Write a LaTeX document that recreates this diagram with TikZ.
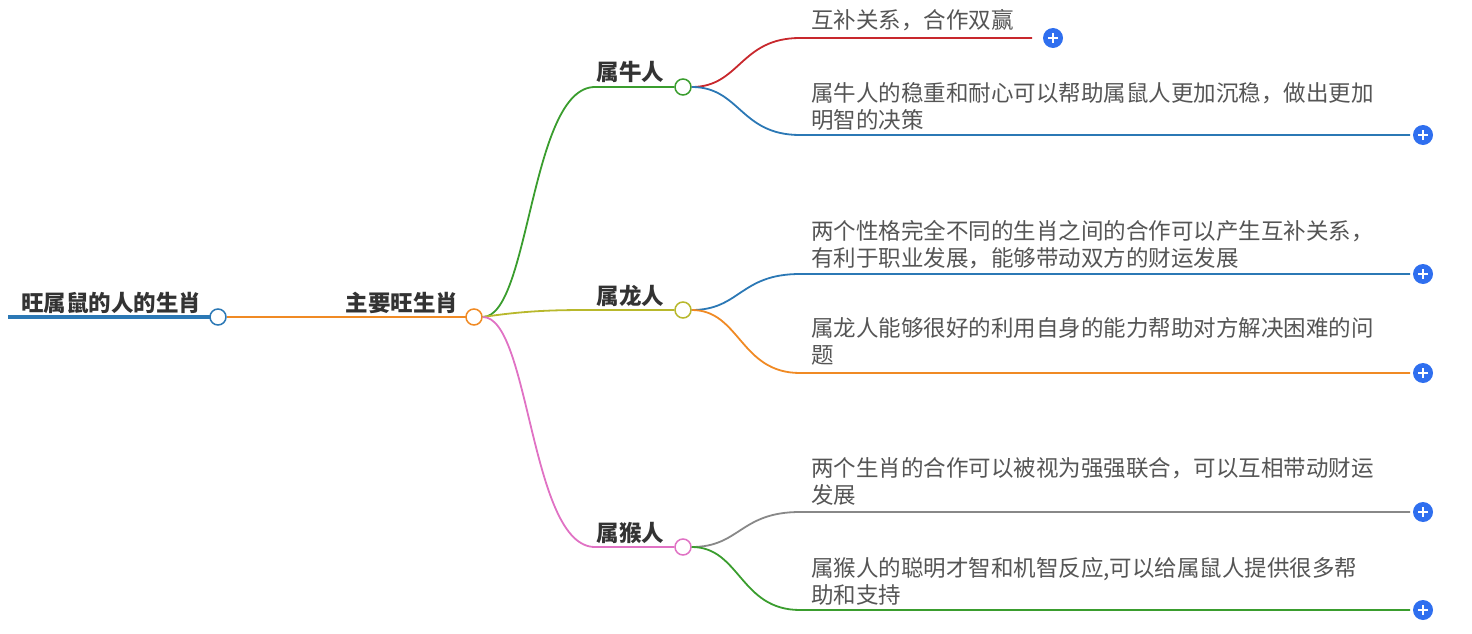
\documentclass[tikz,border=0pt]{standalone}
\usepackage{fontspec}
\newfontfamily\cjk{Noto Sans CJK SC}
\usetikzlibrary{positioning}
\definecolor{cgreen}{HTML}{3A9D2E}
\definecolor{colive}{HTML}{B8B82C}
\definecolor{cpink}{HTML}{E072C4}
\definecolor{cred}{HTML}{C8282D}
\definecolor{cblue}{HTML}{2B78B5}
\definecolor{corange}{HTML}{F08A24}
\definecolor{cgray}{HTML}{888888}
\definecolor{cplus}{HTML}{2F6FEF}
\definecolor{ctext}{HTML}{555555}
\tikzset{
  x=1pt, y=-1pt,
  topic/.style={font=\cjk\bfseries\fontsize{22.5}{26}\selectfont, text=black!80, inner sep=0pt, anchor=base},
  leaf/.style={font=\cjk\fontsize{22.5}{27.5}\selectfont, text=ctext, inner sep=0pt, anchor=north west, align=left},
  knot/.style={circle, draw=#1, fill=white, line width=1.5pt, minimum size=16pt, inner sep=0pt},
  plus/.style={circle, fill=cplus, minimum size=20pt, inner sep=0pt, path picture={
      \draw[white, line width=1.8pt] ([xshift=-5pt]path picture bounding box.center) -- ([xshift=5pt]path picture bounding box.center);
      \draw[white, line width=1.8pt] ([yshift=-5pt]path picture bounding box.center) -- ([yshift=5pt]path picture bounding box.center);}},
  edge/.style={line width=1.8pt}
}
\begin{document}
\begin{tikzpicture}
  \useasboundingbox (0,0) rectangle (1472,634);
  % root
  \draw[cblue, line width=4pt] (8,317) -- (210,317);
  \node[topic] (root) at (111,311) {旺属鼠的人的生肖};
  \node[knot=cblue] (rootk) at (218,317) {};
  \draw[corange, edge] (rootk) -- (466,317);
  \node[topic] (main) at (402,311) {主要旺生肖};
  \node[knot=corange] (maink) at (474,317) {};
  % branches
  \node[knot=cgreen] (ox) at (683,87) {};
  \node[knot=colive] (dragon) at (683,310) {};
  \node[knot=cpink] (monkey) at (683,547) {};
  \node[topic, above left=6pt and 10pt of ox.west, anchor=base east] (oxt) {属牛人};
  \node[topic, above left=6pt and 10pt of dragon.west, anchor=base east] (dragont) {属龙人};
  \node[topic, above left=6pt and 10pt of monkey.west, anchor=base east] (monkeyt) {属猴人};
  \draw[cgreen, edge] (maink.east) .. controls (530,317) and (530,87) .. (595,87) -- (ox.west);
  \draw[colive, edge] (maink.east) .. controls (530,310) and (560,310) .. (595,310) -- (dragon.west);
  \draw[cpink, edge] (maink.east) .. controls (530,317) and (530,547) .. (595,547) -- (monkey.west);
  % leaves
  \node[leaf] (l1) at (811,9) {互补关系，合作双赢};
  \node[leaf] (l2) at (811,82) {属牛人的稳重和耐心可以帮助属鼠人更加沉稳，做出更加\\明智的决策};
  \node[leaf] (l3) at (811,220) {两个性格完全不同的生肖之间的合作可以产生互补关系，\\有利于职业发展，能够带动双方的财运发展};
  \node[leaf] (l4) at (811,317) {属龙人能够很好的利用自身的能力帮助对方解决困难的问\\题};
  \node[leaf] (l5) at (811,457) {两个生肖的合作可以被视为强强联合，可以互相带动财运\\发展};
  \node[leaf] (l6) at (811,557) {属猴人的聪明才智和机智反应,可以给属鼠人提供很多帮\\助和支持};
  \node[plus] (p1) at (1053,38) {};
  \node[plus] (p2) at (1423,135) {};
  \node[plus] (p3) at (1423,274) {};
  \node[plus] (p4) at (1423,373) {};
  \node[plus] (p5) at (1423,512) {};
  \node[plus] (p6) at (1423,610) {};
  \draw[cred, edge] (ox.east) .. controls (740,87) and (740,38) .. (800,38) -- (1032,38);
  \draw[cblue, edge] (ox.east) .. controls (740,87) and (740,135) .. (800,135) -- (1410,135);
  \draw[cblue, edge] (dragon.east) .. controls (740,310) and (740,274) .. (800,274) -- (1410,274);
  \draw[corange, edge] (dragon.east) .. controls (740,310) and (740,373) .. (800,373) -- (1410,373);
  \draw[cgray, edge] (monkey.east) .. controls (740,547) and (740,512) .. (800,512) -- (1410,512);
  \draw[cgreen, edge] (monkey.east) .. controls (740,547) and (740,610) .. (800,610) -- (1410,610);
\end{tikzpicture}
\end{document}
